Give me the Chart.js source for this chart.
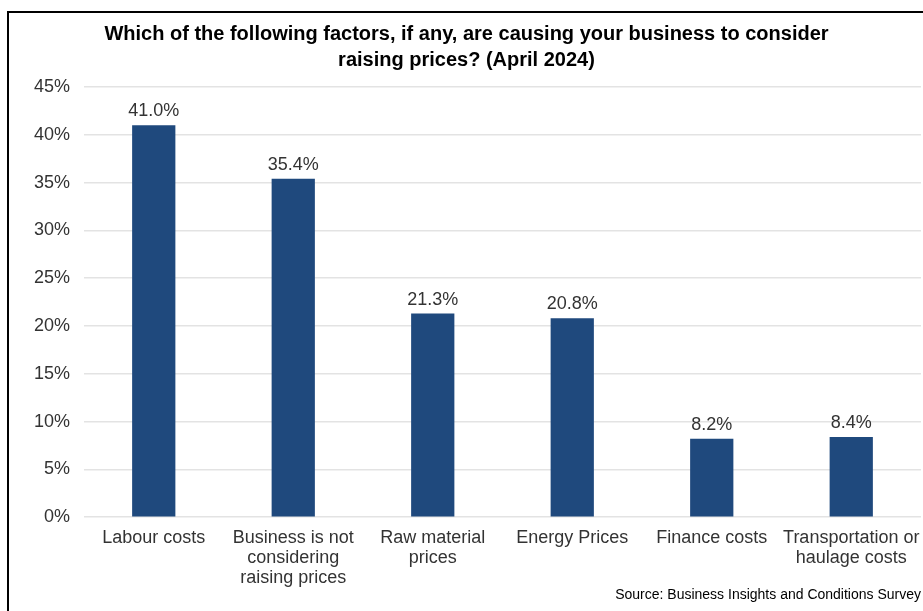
<!DOCTYPE html>
<html>
<head>
<meta charset="utf-8">
<script src="https://cdn.jsdelivr.net/npm/chart.js@4"></script>
<style>
  html, body { margin: 0; padding: 0; background: #fff; overflow: hidden; }
  #wrap { position: relative; width: 923px; height: 611px; }
  #frame {
    position: absolute; left: 7px; top: 11px; width: 1000px; height: 1000px;
    border-left: 2px solid #000; border-top: 2px solid #000;
  }
  canvas { position: absolute; left: 0; top: 0; }
</style>
</head>
<body>
<div id="wrap">
  <div id="frame"></div>
  <canvas id="pricesChart" width="923" height="611"></canvas>
</div>
<script>
'use strict';

/* ── Data ───────────────────────────────────────────────────────── */
const categories = [
    'Labour costs',
    ['Business is not', 'considering', 'raising prices'],
    ['Raw material', 'prices'],
    'Energy Prices',
    'Finance costs',
    ['Transportation or', 'haulage costs']
];
const shares = [41.0, 35.4, 21.3, 20.8, 8.2, 8.4];
const yTicks = [0, 5, 10, 15, 20, 25, 30, 35, 40, 45];

const titleLines = [
    'Which of the following factors, if any, are causing your business to consider',
    'raising prices? (April 2024)'
];
const sourceNote = 'Source: Business Insights and Conditions Survey';

const BAR_BLUE = '#1F497D';
const TEXT_GREY = '#333333';
const FONT = 'Arial, "Liberation Sans", sans-serif';

/* ── Value labels above each bar ────────────────────────────────── */
const barValueLabels = {
    id: 'barValueLabels',
    afterDatasetsDraw(chart) {
        const { ctx } = chart;
        const meta = chart.getDatasetMeta(0);
        ctx.save();
        ctx.font = '18px ' + FONT;
        ctx.fillStyle = TEXT_GREY;
        ctx.textAlign = 'center';
        ctx.textBaseline = 'middle';
        meta.data.forEach((bar, i) => {
            ctx.fillText(shares[i].toFixed(1) + '%', bar.x, bar.y - 14);
        });
        ctx.restore();
    }
};

const canvas = document.getElementById('pricesChart');
new Chart(canvas, {
    type: 'bar',
    data: {
        labels: categories,
        datasets: [{
            data: shares,
            backgroundColor: BAR_BLUE,
            borderWidth: 0,
            categoryPercentage: 1.0,
            barPercentage: 0.31
        }]
    },
    options: {
        responsive: false,
        animation: false,
        layout: { padding: { top: 0, right: 2, bottom: 7, left: 12 } },
        plugins: {
            legend: { display: false },
            tooltip: { enabled: false },
            title: {
                display: true,
                text: titleLines,
                color: '#000',
                font: { family: FONT, size: 20, weight: 'bold', lineHeight: 1.3 },
                padding: { top: 21, bottom: 14 }
            },
            subtitle: {
                display: true,
                position: 'bottom',
                align: 'end',
                text: sourceNote,
                color: '#000',
                font: { family: FONT, size: 14, lineHeight: 1.2 },
                padding: { top: 0, bottom: 0 }
            }
        },
        scales: {
            x: {
                // long category names may overhang the plot edges
                afterFit: axis => {
                    axis.height = 70;
                    axis.paddingLeft = 0;
                    axis.paddingRight = 0;
                },
                grid: { display: false, drawTicks: false },
                border: { display: false },
                ticks: {
                    color: TEXT_GREY,
                    font: { family: FONT, size: 18, lineHeight: 1.1 },
                    padding: 11,
                    maxRotation: 0,
                    autoSkip: false
                }
            },
            y: {
                min: 0,
                max: 45,
                afterBuildTicks: axis => { axis.ticks = yTicks.map(v => ({ value: v })); },
                afterFit: axis => { axis.width = 72; },
                grid: { color: '#e3e3e3', lineWidth: 1.5, drawTicks: false },
                border: { display: false },
                ticks: {
                    color: TEXT_GREY,
                    font: { family: FONT, size: 18 },
                    padding: 14,
                    callback: v => v + '%'
                }
            }
        }
    },
    plugins: [barValueLabels]
});
</script>
</body>
</html>
